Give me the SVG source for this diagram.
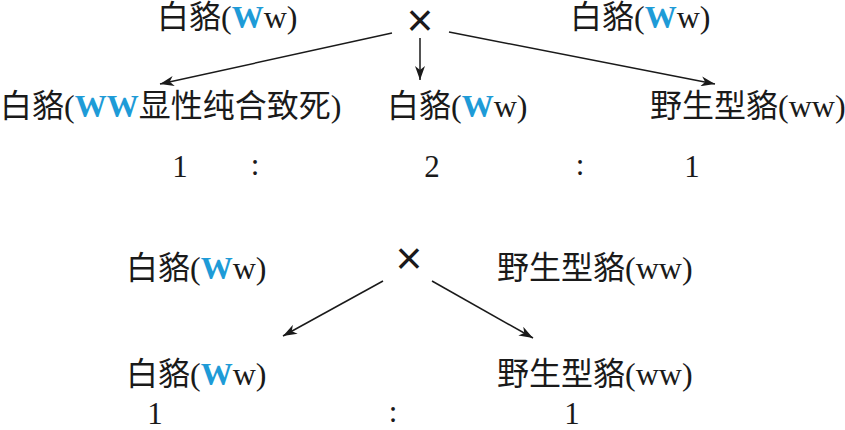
<svg xmlns="http://www.w3.org/2000/svg" width="845" height="430" viewBox="0 0 845 430">
<defs>
<style>
text{font-family:"Liberation Serif","Noto Sans CJK SC",serif;font-size:32px;fill:#1a1a1a}
.b{fill:#1e9bd7;font-weight:bold}
.n{font-size:31px;text-anchor:middle}
.x{font-family:"Liberation Sans",sans-serif;font-size:46px;text-anchor:middle}
.c line{stroke:#1a1a1a;stroke-width:1.5;marker-end:url(#ah)}
</style>
<marker id="ah" markerUnits="userSpaceOnUse" markerWidth="16" markerHeight="10" refX="14" refY="5" orient="auto">
<path d="M0,0 L14,5 L0,10 L4,5 z" fill="#1a1a1a"/>
</marker>
</defs>
<rect width="845" height="430" fill="#fff"/>
<g id="p1a"><text x="157" y="28">白貉(<tspan class="b">W</tspan>w)</text></g>
<g id="cross1"><text class="x" x="420" y="36">×</text></g>
<g id="p1b"><text x="570" y="28">白貉(<tspan class="b">W</tspan>w)</text></g>
<g id="o1"><text x="0" y="117">白貉(<tspan class="b">WW</tspan>显性纯合致死)</text></g>
<g id="o2"><text x="387" y="117">白貉(<tspan class="b">W</tspan>w)</text></g>
<g id="o3"><text x="650" y="117">野生型貉(ww)</text></g>
<g id="r1">
<text class="n" x="180" y="177">1</text>
<text class="n" x="255" y="175">:</text>
<text class="n" x="432" y="177">2</text>
<text class="n" x="580" y="175">:</text>
<text class="n" x="692" y="177">1</text>
</g>
<g id="p2a"><text x="126" y="279">白貉(<tspan class="b">W</tspan>w)</text></g>
<g id="cross2"><text class="x" x="409" y="274">×</text></g>
<g id="p2b"><text x="497" y="279">野生型貉(ww)</text></g>
<g id="o4"><text x="126" y="385">白貉(<tspan class="b">W</tspan>w)</text></g>
<g id="o5"><text x="497" y="385">野生型貉(ww)</text></g>
<g id="r2">
<text class="n" x="155" y="424">1</text>
<text class="n" x="393" y="422">:</text>
<text class="n" x="572" y="424">1</text>
</g>
<g id="connectors" class="c">
<line x1="392" y1="33" x2="160" y2="84"/>
<line x1="420" y1="38" x2="420" y2="80"/>
<line x1="449" y1="32" x2="715" y2="84"/>
<line x1="383" y1="281" x2="283" y2="336"/>
<line x1="432" y1="281" x2="533" y2="338"/>
</g>
</svg>
